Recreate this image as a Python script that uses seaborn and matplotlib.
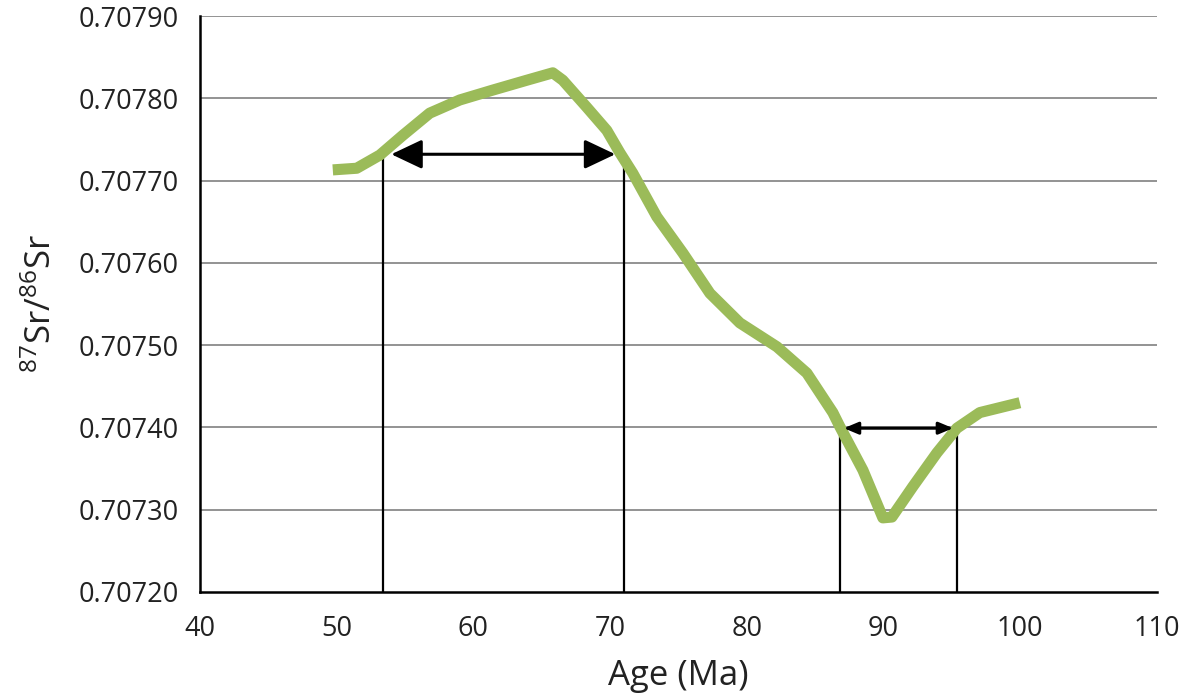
import matplotlib
matplotlib.use("Agg")
import matplotlib.pyplot as plt
import seaborn as sns
import pandas as pd

# Data
age = [49.73, 51.48, 53.17, 54.85, 56.82, 59.02, 61.43, 63.92, 65.82, 66.55,
       68.31, 69.77, 70.72, 71.67, 73.43, 75.33, 77.31, 79.50, 82.21, 84.40,
       86.30, 86.81, 88.50, 89.96, 90.62, 92.15, 93.91, 95.37, 97.05, 99.98]
sr_ratio = [0.707713, 0.707715, 0.707731, 0.707755, 0.707782, 0.707798, 0.707810,
            0.707822, 0.707831, 0.707822, 0.707789, 0.707761, 0.707734, 0.707709,
            0.707656, 0.707612, 0.707563, 0.707527, 0.707498, 0.707466, 0.707418,
            0.707401, 0.707348, 0.707290, 0.707291, 0.707328, 0.707369, 0.707399,
            0.707418, 0.707430]

upper_band = [53.4, 71.0]
upper_level = 0.707732
lower_band = [86.8, 95.4]
lower_level = 0.707399

x_ticks = [40, 50, 60, 70, 80, 90, 100, 110]
y_ticks = [0.70720, 0.70730, 0.70740, 0.70750, 0.70760, 0.70770, 0.70780, 0.70790]

sns.set_theme(style="white")
plt.rcParams['font.family'] = ['Open Sans', 'DejaVu Sans']
plt.rcParams['mathtext.fontset'] = 'custom'
plt.rcParams['mathtext.rm'] = 'Open Sans'
plt.rcParams['mathtext.default'] = 'regular'

fig = plt.figure(figsize=(11.89, 6.98), dpi=100)
ax = fig.add_axes([0.168, 0.152, 0.805, 0.825])

df = pd.DataFrame({"age": age, "sr": sr_ratio})

ax.set_xlim(40, 110)
ax.set_ylim(0.70720, 0.70790)
ax.set_yticks(y_ticks)
ax.set_yticklabels([f"{v:.5f}" for v in y_ticks])
ax.set_xticks(x_ticks)
ax.set_xticklabels([str(v) for v in x_ticks])

for v in y_ticks[1:]:
    ax.axhline(v, color="#8a8a8a", lw=1.3, zorder=1)

# vertical lines from axis to curve
for xv in upper_band:
    ax.plot([xv, xv], [0.70720, upper_level], color="black", lw=1.6, zorder=2)
for xv in lower_band:
    ax.plot([xv, xv], [0.70720, lower_level], color="black", lw=1.6, zorder=2)

sns.lineplot(data=df, x="age", y="sr", ax=ax, color="#9bbb59", lw=8,
             solid_capstyle="butt", solid_joinstyle="round", zorder=3)

ax.annotate("", xy=(upper_band[0], upper_level), xytext=(upper_band[1], upper_level),
            arrowprops=dict(arrowstyle="<|-|>,head_length=0.95,head_width=0.45",
                            color="black", lw=2.2, mutation_scale=20,
                            shrinkA=6, shrinkB=6), zorder=4)
ax.annotate("", xy=(lower_band[0], lower_level), xytext=(lower_band[1], lower_level),
            arrowprops=dict(arrowstyle="<|-|>,head_length=0.86,head_width=0.36",
                            color="black", lw=2.2, mutation_scale=10,
                            shrinkA=3, shrinkB=3), zorder=4)

for side in ["top", "right"]:
    ax.spines[side].set_visible(False)
for side in ["left", "bottom"]:
    ax.spines[side].set_color("black")
    ax.spines[side].set_linewidth(1.8)

ax.tick_params(axis="both", which="major", direction="out", width=1.2,
               color="#777777", labelsize=19.5, labelcolor="#222222")
ax.tick_params(axis="y", length=6, pad=9)
ax.tick_params(axis="x", length=9.5, pad=7)

ax.set_xlabel("Age (Ma)", fontsize=25, color="#222222", labelpad=12)
ax.set_ylabel(r"$^{87}$Sr/$^{86}$Sr", fontsize=25, color="#222222", labelpad=14)

fig.savefig("out.png", dpi=100, facecolor="white")
